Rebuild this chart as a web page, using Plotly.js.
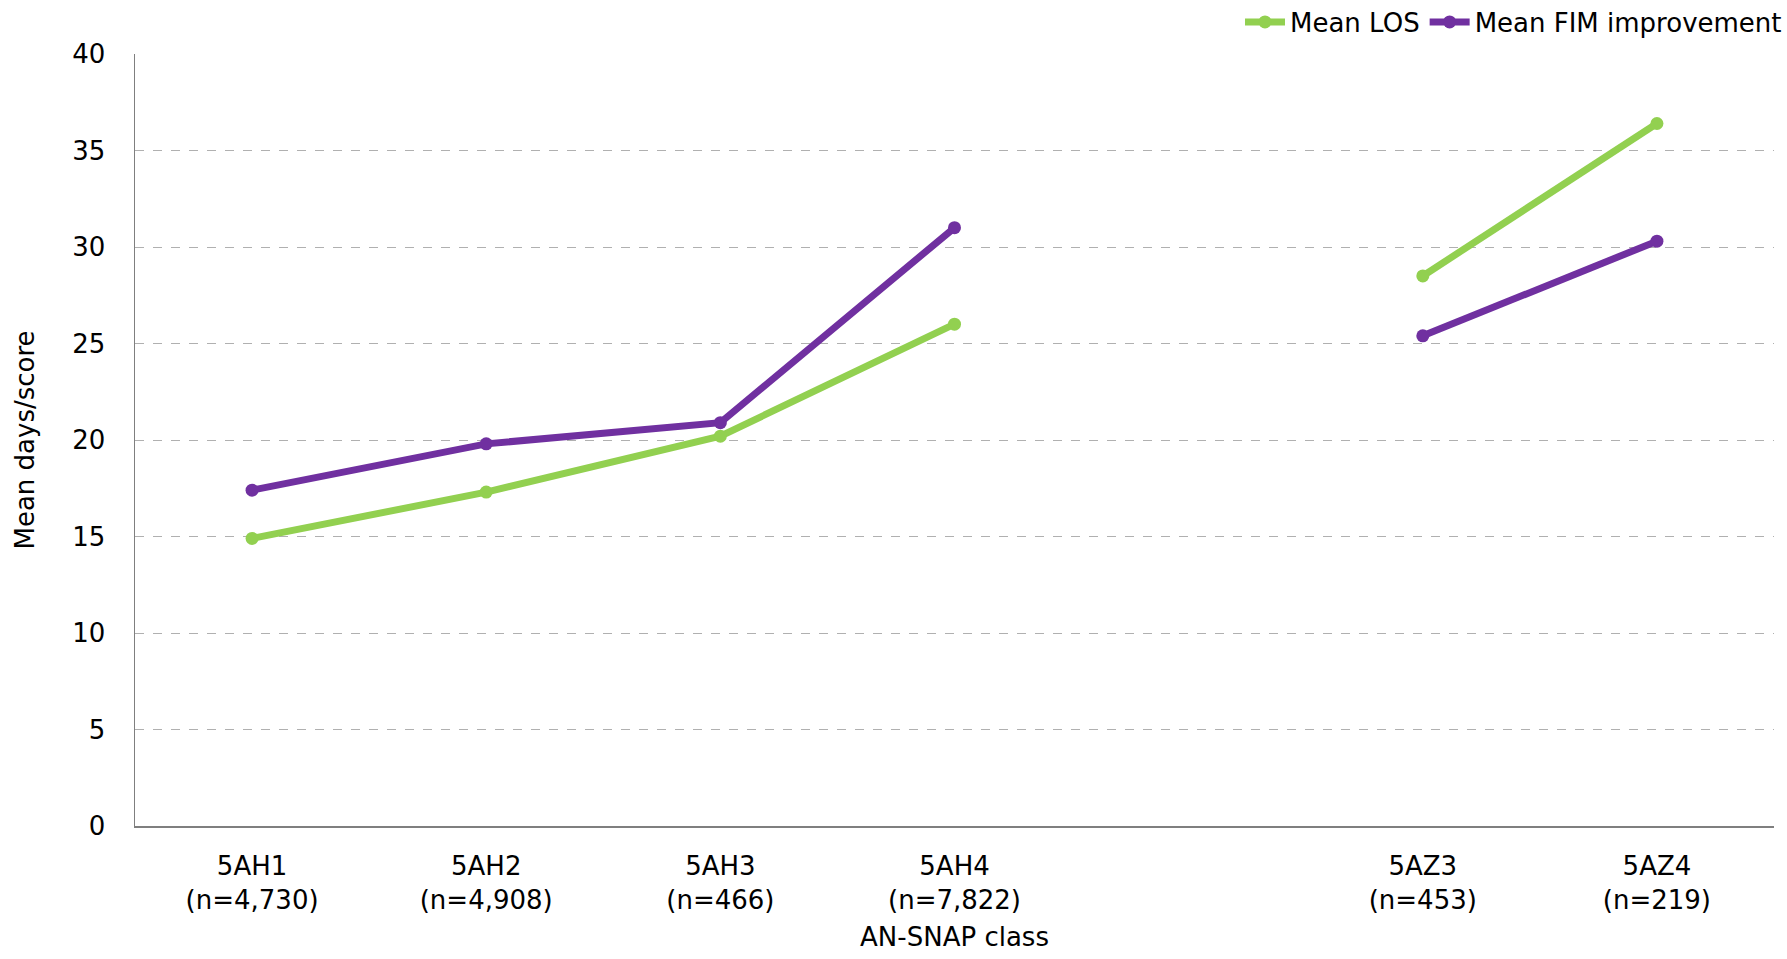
<!DOCTYPE html>
<html>
<head>
<meta charset="utf-8">
<script src="https://cdn.plot.ly/plotly-3.0.1.min.js"></script>
<style>html,body{margin:0;padding:0;background:#fff;}#chart{width:1787px;height:959px;}</style>
</head>
<body>
<div id="chart"></div>
<script>
var categories = ['5AH1<br>(n=4,730)', '5AH2<br>(n=4,908)', '5AH3<br>(n=466)', '5AH4<br>(n=7,822)', ' ', '5AZ3<br>(n=453)', '5AZ4<br>(n=219)'];
var meanLOS = [14.9, 17.3, 20.2, 26.0, null, 28.5, 36.4];
var meanFIM = [17.4, 19.8, 20.9, 31.0, null, 25.4, 30.3];
var yTicks = [0, 5, 10, 15, 20, 25, 30, 35, 40];

var FONT = '"DejaVu Sans", sans-serif';

var traces = [
  {x: categories, y: meanLOS, name: 'Mean LOS', type: 'scatter', mode: 'lines+markers',
   connectgaps: false, line: {color: '#92D050', width: 7}, marker: {color: '#92D050', size: 13}},
  {x: categories, y: meanFIM, name: 'Mean FIM improvement', type: 'scatter', mode: 'lines+markers',
   connectgaps: false, line: {color: '#7030A0', width: 7}, marker: {color: '#7030A0', size: 13}}
];

var layout = {
  width: 1787, height: 959,
  margin: {l: 135, r: 13, t: 54, b: 133, autoexpand: false},
  paper_bgcolor: '#fff', plot_bgcolor: '#fff',
  font: {family: FONT, size: 26, color: '#000'},
  showlegend: true,
  legend: {orientation: 'h', xref: 'container', yref: 'container', x: 1, xanchor: 'right', y: 0.977, yanchor: 'middle',
           font: {family: FONT, size: 26, color: '#000'}, bgcolor: 'rgba(0,0,0,0)', tracegroupgap: 0, itemwidth: 40},
  xaxis: {type: 'category', categoryorder: 'array', categoryarray: categories, range: [-0.5, 6.5],
          showgrid: false, zeroline: false, showline: true, linecolor: '#7f7f7f', linewidth: 1.5,
          ticks: '', ticklabelstandoff: 16, tickfont: {family: FONT, size: 26, color: '#000'},
          title: {text: 'AN-SNAP class', font: {family: FONT, size: 26, color: '#000'}, standoff: 14}},
  yaxis: {range: [0, 40], tickvals: yTicks, showgrid: true, gridcolor: '#b0b0b0', griddash: 'dash', gridwidth: 1,
          zeroline: false, showline: true, linecolor: '#7f7f7f', linewidth: 1.5,
          ticks: '', ticklabelstandoff: 23, tickfont: {family: FONT, size: 26, color: '#000'},
          title: {text: 'Mean days/score', font: {family: FONT, size: 26, color: '#000'}, standoff: 30}}
};

Plotly.newPlot('chart', traces, layout, {displayModeBar: false, staticPlot: true});
</script>
</body>
</html>
